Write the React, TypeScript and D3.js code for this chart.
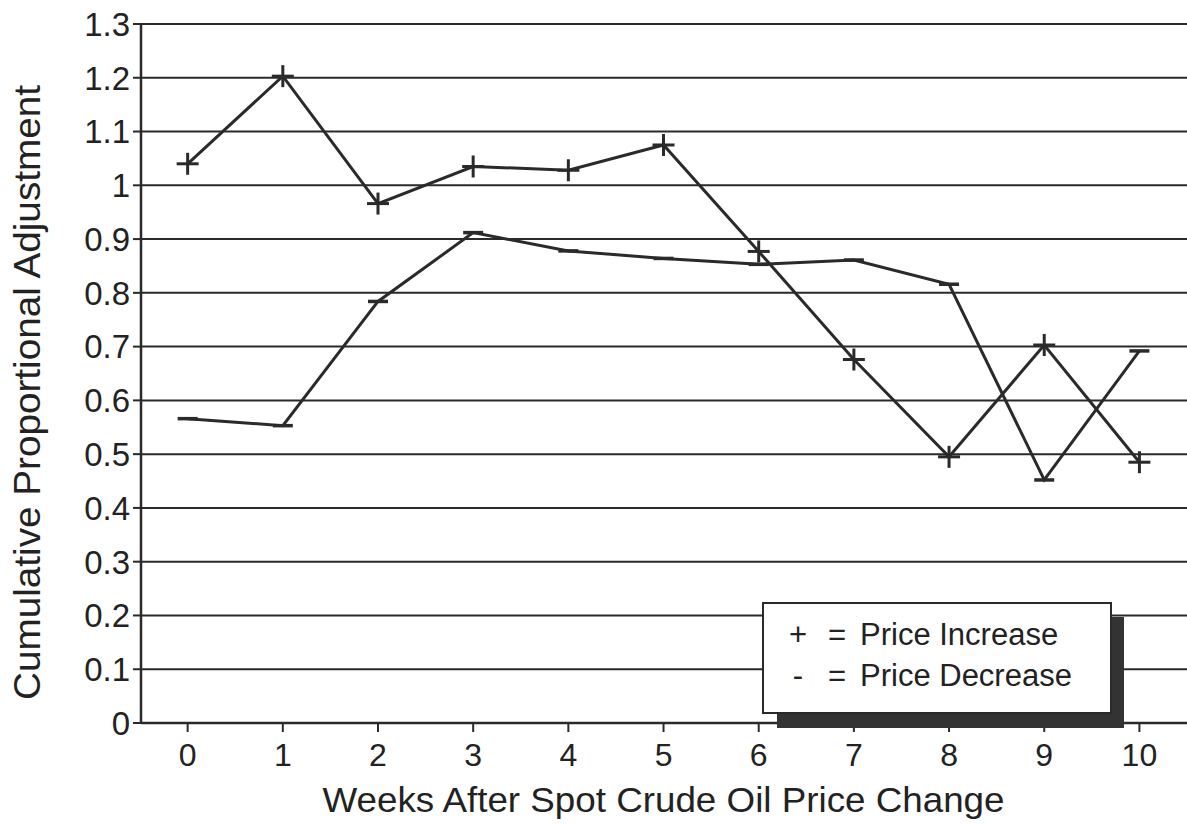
import * as d3 from 'd3'

const weeks = [0, 1, 2, 3, 4, 5, 6, 7, 8, 9, 10]
const priceIncrease = [1.04, 1.203, 0.966, 1.035, 1.028, 1.075, 0.877, 0.676, 0.495, 0.703, 0.485]
const priceDecrease = [0.566, 0.553, 0.784, 0.912, 0.878, 0.864, 0.853, 0.861, 0.816, 0.452, 0.692]
const yTicks = [0, 0.1, 0.2, 0.3, 0.4, 0.5, 0.6, 0.7, 0.8, 0.9, 1, 1.1, 1.2, 1.3]
const legendSymbols = ['+', '-']
const legendLabels = ['Price Increase', 'Price Decrease']

const W = 1187
const H = 824
const left = 141
const top = 24
const bottom = 723
const ink = '#2a2a2a'
const font = '"Liberation Sans", Arial, Helvetica, sans-serif'

const App = () => {
  const x = d3.scaleLinear().domain([-0.49, 10.5]).range([left, W])
  const y = d3.scaleLinear().domain([0, 1.3]).range([bottom, top])

  const line = d3
    .line<number>()
    .x((_, i) => x(weeks[i]))
    .y((d) => y(d))

  const fmt = (v: number) => (v === 0 || v === 1 ? String(v) : d3.format('.1f')(v))

  return (
    <svg
      width={W}
      height={H}
      style={{ position: 'absolute', left: 0, top: 0, background: '#fff' }}
      fontFamily={font}
    >
      {/* gridlines */}
      {yTicks.map((t) => (
        <line key={'g' + t} x1={left} x2={W} y1={y(t)} y2={y(t)} stroke={ink} strokeWidth={2} />
      ))}

      {/* y axis */}
      <line x1={left} x2={left} y1={top} y2={bottom} stroke={ink} strokeWidth={2.5} />
      {yTicks.map((t) => (
        <g key={'y' + t}>
          <line x1={left - 8} x2={left} y1={y(t)} y2={y(t)} stroke={ink} strokeWidth={2} />
          <text
            x={left - 11}
            y={y(t)}
            dy="0.36em"
            textAnchor="end"
            fontSize={33}
            fill="#222"
          >
            {fmt(t)}
          </text>
        </g>
      ))}

      {/* x axis */}
      <line x1={left} x2={W} y1={bottom} y2={bottom} stroke={ink} strokeWidth={2.5} />
      {weeks.map((w) => (
        <g key={'x' + w}>
          <line x1={x(w)} x2={x(w)} y1={bottom} y2={bottom + 9} stroke={ink} strokeWidth={2} />
          <text x={x(w)} y={766} textAnchor="middle" fontSize={32} fill="#222">
            {w}
          </text>
        </g>
      ))}

      {/* axis titles */}
      <text
        x={x(5)}
        y={812}
        textAnchor="middle"
        fontSize={35}
        fill="#222"
        textLength={682}
        lengthAdjust="spacingAndGlyphs"
      >
        Weeks After Spot Crude Oil Price Change
      </text>
      <text
        transform={`translate(40, ${(85 + 700) / 2}) rotate(-90)`}
        textAnchor="middle"
        fontSize={37}
        fill="#222"
        textLength={615}
        lengthAdjust="spacingAndGlyphs"
      >
        Cumulative Proportional Adjustment
      </text>

      {/* series */}
      <path d={line(priceIncrease) ?? ''} fill="none" stroke={ink} strokeWidth={3} />
      <path d={line(priceDecrease) ?? ''} fill="none" stroke={ink} strokeWidth={3} />

      {priceIncrease.map((v, i) => (
        <g key={'p' + i} stroke={ink} strokeWidth={3}>
          <line x1={x(weeks[i]) - 11} x2={x(weeks[i]) + 11} y1={y(v)} y2={y(v)} />
          <line x1={x(weeks[i])} x2={x(weeks[i])} y1={y(v) - 11} y2={y(v) + 11} />
        </g>
      ))}
      {priceDecrease.map((v, i) => (
        <line
          key={'m' + i}
          x1={x(weeks[i]) - 10}
          x2={x(weeks[i]) + 10}
          y1={y(v)}
          y2={y(v)}
          stroke={ink}
          strokeWidth={3.5}
        />
      ))}

      {/* legend with shadow */}
      <rect x={777} y={617} width={347} height={111} fill="#333" />
      <rect x={763} y={603} width={348} height={110} fill="#fff" stroke={ink} strokeWidth={2} />
      {legendLabels.map((l, i) => (
        <g key={l} fontSize={31} fill="#222">
          <text x={798} y={645 + i * 41} textAnchor="middle">
            {legendSymbols[i]}
          </text>
          <text x={837} y={645 + i * 41} textAnchor="middle">
            =
          </text>
          <text x={860} y={645 + i * 41}>
            {l}
          </text>
        </g>
      ))}
    </svg>
  )
}

export default App
